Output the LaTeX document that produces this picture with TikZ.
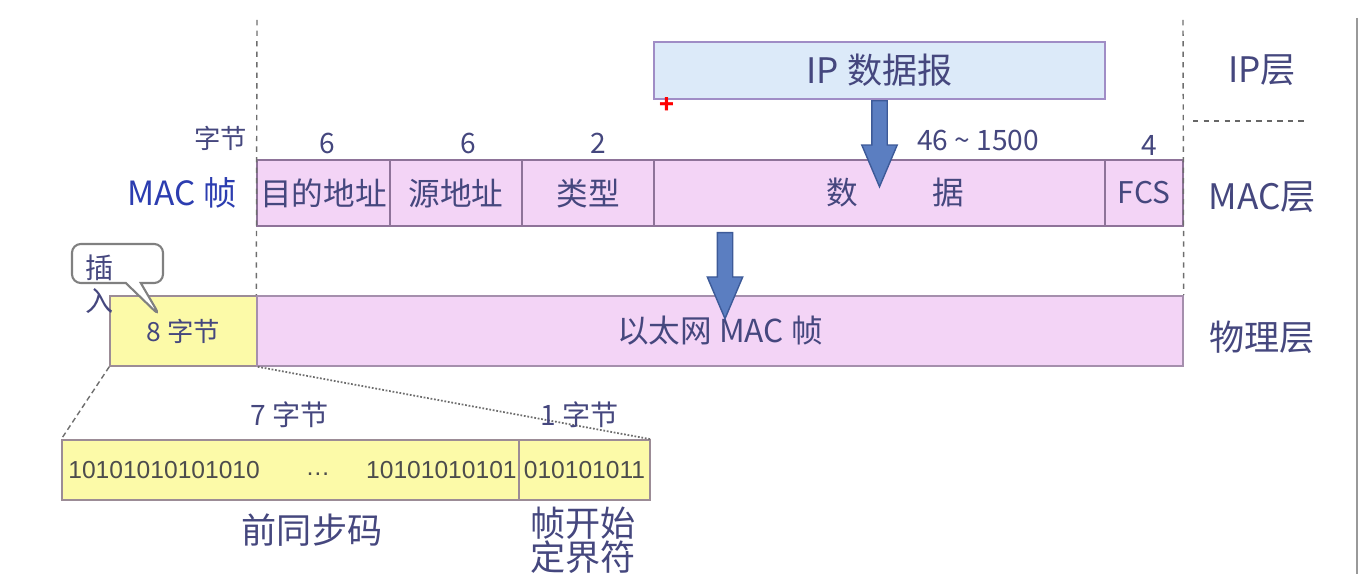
\documentclass[tikz,border=0pt]{standalone}
\usepackage{fontspec}
\setmainfont{Noto Sans CJK SC}
\newfontfamily\bitfont{Liberation Sans}
\usepackage{xcolor}
\definecolor{ipfill}{HTML}{DCEAF9}
\definecolor{ipline}{HTML}{A08DC6}
\definecolor{macfill}{HTML}{F3D4F6}
\definecolor{macline}{HTML}{8E7399}
\definecolor{prefill}{HTML}{FCFAA8}
\definecolor{preline}{HTML}{9C8C96}
\definecolor{inktext}{HTML}{45477E}
\definecolor{labelblue}{HTML}{2C3DB0}
\definecolor{arrowfill}{HTML}{5B7EC1}
\definecolor{arrowline}{HTML}{3D5A98}
\definecolor{guide}{HTML}{6E6E6E}
\usepackage{tikz}
\usetikzlibrary{shapes.arrows, shapes.callouts, calc}

\begin{document}
\begin{tikzpicture}[
    x=0.02cm, y=-0.02cm,
    text=inktext,
    ipbox/.style={draw=ipline, fill=ipfill, line width=1.2pt, minimum width=9.02cm, minimum height=1.14cm, inner sep=0pt, font=\fontsize{20}{24}\selectfont},
    field/.style={draw=macline, fill=macfill, line width=0.9pt, minimum height=1.32cm, inner sep=0pt, font=\fontsize{18}{22}\selectfont},
    wire/.style={draw=macline!80, fill=macfill, line width=0.9pt, minimum height=1.40cm, inner sep=0pt, font=\fontsize{18}{22}\selectfont},
    preamb/.style={draw=preline, fill=prefill, line width=0.9pt, inner sep=0pt},
    bits/.style={font=\bitfont\fontsize{14}{16}\selectfont, text=black!70, inner sep=0pt},
    layer/.style={font=\fontsize{20}{24}\selectfont},
    count/.style={font=\fontsize{16}{18}\selectfont},
    unit/.style={font=\fontsize{15}{18}\selectfont},
    bigarrow/.style={single arrow, draw=arrowline, fill=arrowfill, line width=0.8pt, rotate=-90, inner xsep=0pt, inner ysep=0.14cm, minimum height=1.72cm, single arrow head extend=0.2cm, single arrow tip angle=46, anchor=tail},
    guideline/.style={draw=guide, dashed, line width=0.8pt},
]
\useasboundingbox (0,0) rectangle (1370,574);

% ── Guide lines ──
\coordinate (gl) at (257,20);
\coordinate (gr) at (1183,20);
\coordinate (sepA) at (1193,121);
\coordinate (sepB) at (1305,121);
\coordinate (edgeT) at (1357,18);
\coordinate (edgeB) at (1357,574);
\draw[draw=black!40, line width=1.2pt] (edgeT) -- (edgeB);

% ── IP layer ──
\node[ipbox] (ip) at (879.5,70.5) {IP 数据报};
\node[text=red, font=\fontsize{14}{14}\selectfont\bfseries] (cursor) at (667,106) {+};
\node[layer] (iplayer) at (1262,70) {IP层};

% ── MAC frame ──
\node[unit, anchor=east] (bytes) at (253,138) {字节};
\node[font=\fontsize{19}{22}\selectfont, text=labelblue, anchor=east] (macname) at (243,193) {MAC 帧};
\node[field, minimum width=2.66cm] (dst) at (323.5,193) {目的地址};
\node[field, minimum width=2.64cm] (src) at (456,193) {源地址};
\node[field, minimum width=2.64cm] (type) at (588,193) {类型};
\node[field, minimum width=9.02cm] (data) at (879.5,193) {\hspace{0.64cm}数\hspace{1.48cm}据};
\node[field, minimum width=1.56cm, font=\fontsize{17}{20}\selectfont] (fcs) at (1144,193) {FCS};
\node[count] (n1) at (327,143) {6};
\node[count] (n2) at (468,143) {6};
\node[count] (n3) at (598,143) {2};
\node[count] (n4) at (978,140) {46 \textasciitilde{} 1500};
\node[count] (n5) at (1149,145) {4};
\node[layer] (maclayer) at (1262,197) {MAC层};

% ── Physical layer ──
\node[preamb, minimum width=2.94cm, minimum height=1.40cm, font=\fontsize{15}{18}\selectfont] (hdr) at (183.5,331) {8 字节};
\node[wire, minimum width=18.52cm] (eth) at (720,331) {以太网 MAC 帧};
\node[layer] (phylayer) at (1262,337) {物理层};
\draw[guideline] (gl) -- (eth.north west);
\draw[guideline] (gr) -- (eth.north east);
\draw[guideline, draw=black!60, line width=1.2pt] (sepA) -- (sepB);

% ── Arrows between layers ──
\node[bigarrow] (down1) at (ip.south) {};
\node[bigarrow] (down2) at (725,232) {};

% ── Callout ──
\node[rectangle callout, draw=black!50, fill=white, line width=1.2pt, rounded corners=5pt,
      minimum width=1.82cm, minimum height=0.78cm, callout pointer width=0.3cm,
      callout absolute pointer={(160,316)}] (insert) at (117.5,263.5) {};
\node[font=\fontsize{16}{18.5}\selectfont, align=left] (inserttext) at (100,284) {插\\入};

% ── Preamble detail ──
\node[preamb, minimum width=9.14cm, minimum height=1.2cm] (pre) at (290.5,470) {};
\node[preamb, minimum width=2.62cm, minimum height=1.2cm, font=\bitfont\fontsize{14}{16}\selectfont, text=black!70] (sfd) at (584.5,470) {010101011};
\node[bits, anchor=west] (bitsA) at (68,470) {10101010101010};
\node[bits] (dots) at (318,474) {\dots};
\node[bits, anchor=east] (bitsB) at (517,470) {10101010101};
\draw[guideline, densely dashed] (hdr.south west) -- (pre.north west);
\draw[draw=guide, densely dotted, line width=1pt] (hdr.south east) -- (sfd.north east);
\node[unit, font=\fontsize{16}{18}\selectfont] (b7) at (290,415) {7 字节};
\node[unit, font=\fontsize{16}{18}\selectfont] (b1) at (580,415) {1 字节};
\node[layer] (precap) at (312,530) {前同步码};
\node[layer, align=center, font=\fontsize{20}{18.5}\selectfont] (sfdcap) at (583,540) {帧开始\\定界符};
\end{tikzpicture}
\end{document}
